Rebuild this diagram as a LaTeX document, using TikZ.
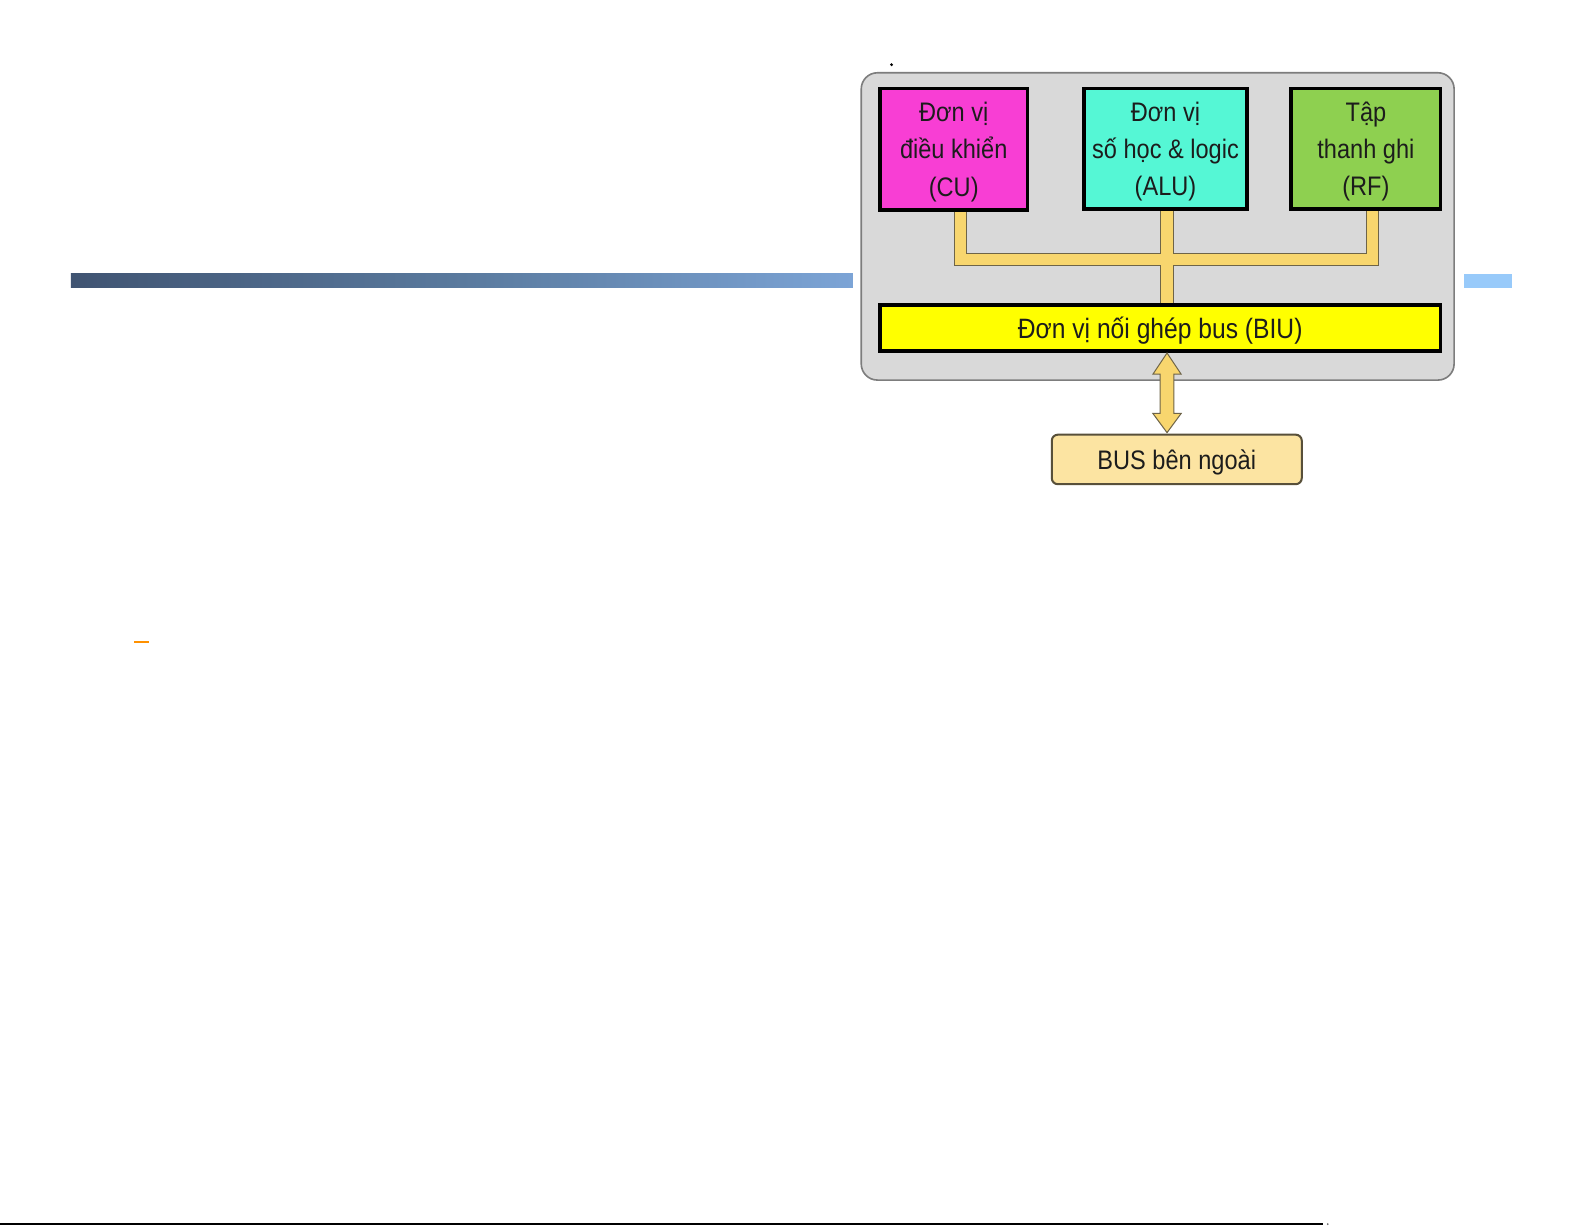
\documentclass[tikz,border=0pt]{standalone}
\usepackage{fontspec}
\setmainfont{Liberation Sans}
\newfontfamily\narrowsans{Liberation Sans}[FakeStretch=0.88]
\usetikzlibrary{calc}
\definecolor{cumag}{RGB}{248,62,212}
\definecolor{alucyan}{RGB}{85,247,213}
\definecolor{rfgreen}{RGB}{142,208,80}
\definecolor{biuyel}{RGB}{255,255,0}
\definecolor{bustan}{RGB}{252,228,162}
\definecolor{panelgray}{RGB}{217,217,217}
\definecolor{paneledge}{RGB}{125,125,125}
\definecolor{busyel}{RGB}{248,214,110}
\definecolor{busedge}{RGB}{110,100,72}
\definecolor{bardark}{RGB}{64,84,114}
\definecolor{barmid}{RGB}{90,122,158}
\definecolor{barlight}{RGB}{124,164,214}
\definecolor{barblue}{RGB}{152,202,250}
\definecolor{dashorange}{RGB}{255,145,0}
\definecolor{inktext}{RGB}{28,28,28}
\newcommand\firststrut{\rule{0pt}{25pt}}
\tikzset{
  unitbox/.style={draw=black, line width=2.4pt, inner sep=0pt, align=center,
    text=inktext, font=\narrowsans\fontsize{26.5}{37}\selectfont},
  widebox/.style={draw=black, line width=2.4pt, inner sep=0pt, align=center,
    text=inktext, font=\narrowsans\fontsize{27.7}{30}\selectfont,
    text height=19.8pt, text depth=0pt},
  busedgeline/.style={draw=busedge, line width=13pt, line join=miter},
  busfillline/.style={draw=busyel, line width=11pt, line join=miter},
  arrowshape/.style={fill=busyel, draw=busedge, line width=1pt, line join=miter}
}
\begin{document}
\begin{tikzpicture}[x=1pt,y=-1pt]
\useasboundingbox (0,0) rectangle (1568,1212);
\fill[white] (0,0) rectangle (1568,1212);
% decorative title bars
\shade[left color=bardark, right color=barlight, middle color=barmid] (70,271) rectangle (843.6,284);
\fill[barblue] (1448.5,271) rectangle (1496,284.5);
% small marks
\fill[black] (882,64) circle (1.6);
\draw[dashorange, line width=2pt] (132.6,635) -- (147.4,635);
\draw[black, line width=2pt] (0,1211) -- (1308.5,1211);
\fill[black!60] (1313.5,1211) circle (0.9);
% outer panel
\node[draw=paneledge, fill=panelgray, line width=1.6pt, rounded corners=16pt,
      minimum width=586.5pt, minimum height=304pt, inner sep=0pt] (panel) at (1145.25,224) {};
% bus junction coordinates
\coordinate (jl) at (950.5,256.5);
\coordinate (jr) at (1358,256.5);
% boxes
\node[unitbox, fill=cumag, minimum width=145pt, minimum height=119pt] (cu) at (943.5,147.5) {\firststrut Đơn vị\\điều khiển\\(CU)};
\node[unitbox, fill=alucyan, minimum width=160pt, minimum height=118pt] (alu) at (1153,147) {\firststrut Đơn vị\\số học \& logic\\(ALU)};
\node[unitbox, fill=rfgreen, minimum width=146.5pt, minimum height=118pt] (rf) at (1351.25,147) {\firststrut Tập\\thanh ghi\\(RF)};
\node[widebox, fill=biuyel, minimum width=553.5pt, minimum height=44pt] (biu) at (1147.75,324.5) {Đơn vị nối ghép bus (BIU)};
\node[draw=busedge!80!black, fill=bustan, line width=2pt, rounded corners=6pt, inner sep=0pt,
      text=inktext, font=\narrowsans\fontsize{26.5}{30}\selectfont,
      text height=19pt, text depth=0pt,
      minimum width=247.3pt, minimum height=49pt] (ext) at (1164.15,454.5) {BUS bên ngoài};
% internal bus (outline then fill)
\draw[busedgeline] (jl |- cu.south) -- (jl) -- (jr) -- (jr |- rf.south);
\draw[busedgeline] ($(alu.south)+(1.5,0)$) -- ($(biu.north -| alu.south)+(1.5,0)$);
\draw[busfillline] ($(jl |- cu.south)+(0,1.5)$) -- (jl) -- (jr) -- ($(jr |- rf.south)+(0,1.5)$);
\draw[busfillline] ($(alu.south)+(1.5,1.5)$) -- ($(biu.north -| alu.south)+(1.5,-1.5)$);
% redraw box borders over the bus ends
\draw[black, line width=2.4pt] (cu.south west) rectangle (cu.north east);
\draw[black, line width=2.4pt] (alu.south west) rectangle (alu.north east);
\draw[black, line width=2.4pt] (rf.south west) rectangle (rf.north east);
\draw[black, line width=2.4pt] (biu.south west) rectangle (biu.north east);
% double arrow between BIU and external bus
\coordinate (at) at ($(biu.south -| alu.south)+(1.5,1.5)$);
\coordinate (ab) at ($(ext.north -| alu.south)+(1.5,-1)$);
\draw[arrowshape] (at) -- ($(at)+(14,21)$) -- ($(at)+(6.8,21)$)
  -- ($(ab)+(6.8,-19)$) -- ($(ab)+(14,-19)$) -- (ab)
  -- ($(ab)+(-14,-19)$) -- ($(ab)+(-6.8,-19)$)
  -- ($(at)+(-6.8,21)$) -- ($(at)+(-14,21)$) -- cycle;
\end{tikzpicture}
\end{document}
